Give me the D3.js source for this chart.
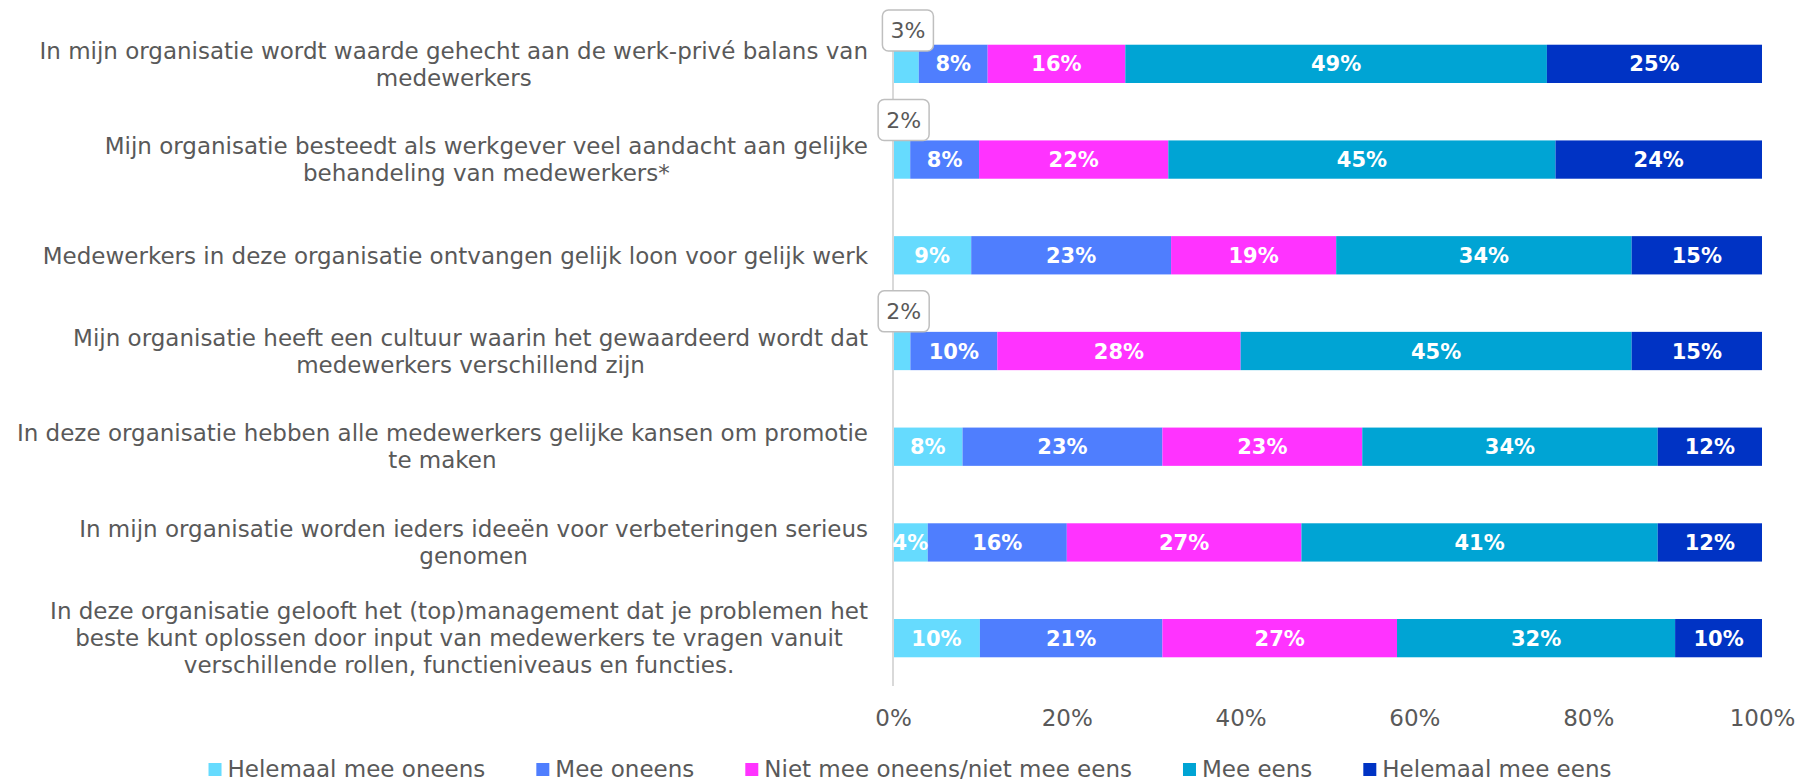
<!DOCTYPE html>
<html>
<head>
<meta charset="utf-8">
<script src="https://cdn.jsdelivr.net/npm/d3@7"></script>
<style>
  body { margin: 0; background: #fff; }
  svg { display: block; }
  text { font-family: "DejaVu Sans", sans-serif; }
</style>
</head>
<body>
<div id="chart"></div>
<script>
// statements, each one split in the lines shown on the picture
var categories = [
  ["In mijn organisatie wordt waarde gehecht aan de werk-privé balans van", "medewerkers"],
  ["Mijn organisatie besteedt als werkgever veel aandacht aan gelijke", "behandeling van medewerkers*"],
  ["Medewerkers in deze organisatie ontvangen gelijk loon voor gelijk werk"],
  ["Mijn organisatie heeft een cultuur waarin het gewaardeerd wordt dat", "medewerkers verschillend zijn"],
  ["In deze organisatie hebben alle medewerkers gelijke kansen om promotie", "te maken"],
  ["In mijn organisatie worden ieders ideeën voor verbeteringen serieus", "genomen"],
  ["In deze organisatie gelooft het (top)management dat je problemen het", "beste kunt oplossen door input van medewerkers te vragen vanuit", "verschillende rollen, functieniveaus en functies."]
]
var series = ["Helemaal mee oneens", "Mee oneens", "Niet mee oneens/niet mee eens", "Mee eens", "Helemaal mee eens"]
var colors = ["#66DBFE", "#4F7EFE", "#FF33FF", "#00A4D4", "#0033C4"]

var helemaalOneens = [3, 2, 9, 2, 8, 4, 10]
var meeOneens      = [8, 8, 23, 10, 23, 16, 21]
var neutraal       = [16, 22, 19, 28, 23, 27, 27]
var meeEens        = [49, 45, 34, 45, 34, 41, 32]
var helemaalEens   = [25, 24, 15, 15, 12, 12, 10]
var xTicks = [0, 0.2, 0.4, 0.6, 0.8, 1]

var width = 1796, height = 782
var left = 893, right = 1762
var grey = '#595959'
var fs = 23

var rows = categories.map(function(c, i){
  return {
    id: i,
    lines: c,
    s0: helemaalOneens[i], s1: meeOneens[i], s2: neutraal[i], s3: meeEens[i], s4: helemaalEens[i]
  }
})
var keys = ['s0','s1','s2','s3','s4']

var stack = d3.stack().keys(keys).offset(d3.stackOffsetExpand)
var layers = stack(rows)

var svg = d3.select('#chart').append('svg')
    .attr('width', width)
    .attr('height', height)

var x = d3.scaleLinear().domain([0, 1]).range([left, right])
var y = d3.scaleBand()
    .domain(rows.map(function(d){ return d.id }))
    .range([16, 686])
    .paddingInner(0.6)
    .paddingOuter(0.3)

// bars
var layer = svg.selectAll('g.layer')
    .data(layers)
    .enter().append('g')
    .attr('class', 'layer')
    .attr('fill', function(d, i){ return colors[i] })

layer.selectAll('rect')
    .data(function(d){ return d })
    .enter().append('rect')
    .attr('x', function(d){ return x(d[0]) })
    .attr('y', function(d){ return y(d.data.id) })
    .attr('width', function(d){ return x(d[1]) - x(d[0]) })
    .attr('height', y.bandwidth())

// zero line
svg.append('line')
    .attr('x1', x(0)).attr('x2', x(0))
    .attr('y1', 16).attr('y2', 686)
    .attr('stroke', '#D9D9D9')
    .attr('stroke-width', 2)

// value labels
layers.forEach(function(l, li){
  l.forEach(function(d){
    var v = d.data[l.key]
    var cx = (x(d[0]) + x(d[1])) / 2
    var top = y(d.data.id)
    if (v < 4) {
      var bw = 51, bh = 41
      var by = Math.max(top - bh, 10)
      svg.append('rect')
          .attr('x', cx - bw / 2 + 2)
          .attr('y', by)
          .attr('width', bw)
          .attr('height', bh)
          .attr('rx', 6)
          .attr('fill', '#fff')
          .attr('stroke', '#BFBFBF')
          .attr('stroke-width', 1.5)
      svg.append('text')
          .attr('x', cx + 2)
          .attr('y', by + bh / 2)
          .attr('dy', '0.36em')
          .attr('text-anchor', 'middle')
          .attr('font-size', 22)
          .attr('fill', grey)
          .text(v + '%')
    } else {
      svg.append('text')
          .attr('x', cx)
          .attr('y', top + y.bandwidth() / 2)
          .attr('dy', '0.36em')
          .attr('text-anchor', 'middle')
          .attr('font-size', 21)
          .attr('font-weight', 'bold')
          .attr('fill', '#fff')
          .text(v + '%')
    }
  })
})

// category labels: block right aligned, lines centred in it
var lineH = 27
rows.forEach(function(r){
  var g = svg.append('g')
  var cy = y(r.id) + y.bandwidth() / 2
  var n = r.lines.length
  var texts = r.lines.map(function(t, i){
    return g.append('text')
        .attr('y', cy + (i - (n - 1) / 2) * lineH)
        .attr('dy', '0.36em')
        .attr('text-anchor', 'middle')
        .attr('font-size', fs)
        .attr('fill', grey)
        .text(t)
  })
  var maxW = d3.max(texts, function(t){ return t.node().getComputedTextLength() })
  texts.forEach(function(t){ t.attr('x', 868 - maxW / 2) })
})

// x axis
var xAxis = svg.append('g')
    .attr('transform', 'translate(0,' + 707 + ')')
    .call(d3.axisBottom(x).tickValues(xTicks).tickFormat(d3.format('.0%')).tickSize(0))
xAxis.select('.domain').remove()
xAxis.selectAll('text')
    .attr('font-size', fs)
    .attr('font-family', '"DejaVu Sans", sans-serif')
    .attr('fill', grey)

// legend
var legend = svg.append('g')
var lx = 0
series.forEach(function(s, i){
  var item = legend.append('g').attr('transform', 'translate(' + lx + ',0)')
  item.append('rect')
      .attr('x', 0).attr('y', -6)
      .attr('width', 13).attr('height', 13)
      .attr('fill', colors[i])
  var t = item.append('text')
      .attr('x', 19)
      .attr('dy', '0.36em')
      .attr('font-size', fs)
      .attr('fill', grey)
      .text(s)
  lx += 19 + t.node().getComputedTextLength() + 51
})
var legendW = lx - 51
legend.attr('transform', 'translate(' + (910 - legendW / 2) + ',' + 769 + ')')
</script>
</body>
</html>
